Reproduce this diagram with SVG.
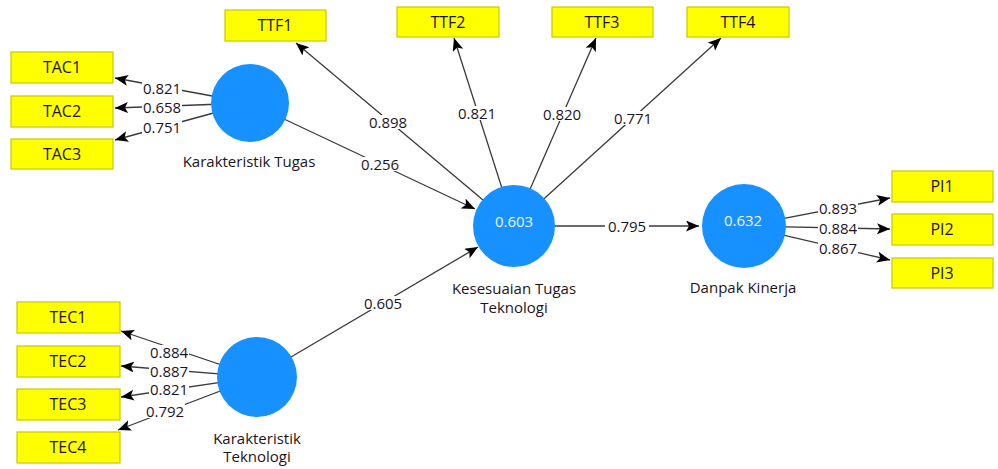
<svg xmlns="http://www.w3.org/2000/svg" width="998" height="469" viewBox="0 0 998 469">
  <style>
    .ind { fill: #ffff00; stroke: #c8c800; stroke-width: 1.2; }
    .ind-t { font-family: "Open Sans", "DejaVu Sans", sans-serif; font-size: 16px; fill: #1e1414; text-anchor: middle; }
    .lv { fill: #1691ff; }
    .lv-v { font-family: "Open Sans", "DejaVu Sans", sans-serif; font-size: 15px; fill: #eef4ff; text-anchor: middle; }
    .lv-n { font-family: "Open Sans", "DejaVu Sans", sans-serif; font-size: 15px; fill: #1e1420; text-anchor: middle; }
    .edge { stroke: #3a3a3a; stroke-width: 1.3; fill: none; marker-end: url(#arrow); }
    .w-bg { fill: #ffffff; }
    .w { font-family: "Open Sans", "DejaVu Sans", sans-serif; font-size: 15px; fill: #1e1428; text-anchor: middle; }
  </style>
  <defs>
    <marker id="arrow" markerUnits="userSpaceOnUse" markerWidth="14" markerHeight="12" refX="13" refY="5.5" orient="auto">
      <path d="M0,0 L13,5.5 L0,11 L3,5.5 z" fill="#000"/>
    </marker>
  </defs>
  <rect width="998" height="469" fill="#ffffff"/>

  <!-- paths and loadings -->
  <g id="connectors">
    <!-- Karakteristik Tugas outer loadings -->
    <line class="edge" x1="250" y1="103" x2="115" y2="78"/>
    <line class="edge" x1="250" y1="103" x2="115" y2="108"/>
    <line class="edge" x1="250" y1="103" x2="115" y2="140"/>
    <!-- Kesesuaian Tugas Teknologi outer loadings -->
    <line class="edge" x1="514" y1="226" x2="296" y2="43"/>
    <line class="edge" x1="514" y1="226" x2="454" y2="38"/>
    <line class="edge" x1="514" y1="226" x2="596" y2="38"/>
    <line class="edge" x1="514" y1="226" x2="721" y2="38"/>
    <!-- structural paths -->
    <line class="edge" x1="250" y1="103" x2="475" y2="209"/>
    <line class="edge" x1="257" y1="377" x2="478" y2="247"/>
    <line class="edge" x1="514" y1="226" x2="699" y2="226"/>
    <!-- Danpak Kinerja outer loadings -->
    <line class="edge" x1="744" y1="226" x2="890" y2="198"/>
    <line class="edge" x1="744" y1="226" x2="890" y2="229"/>
    <line class="edge" x1="744" y1="226" x2="890" y2="260"/>
    <!-- Karakteristik Teknologi outer loadings -->
    <line class="edge" x1="257" y1="377" x2="121" y2="331"/>
    <line class="edge" x1="257" y1="377" x2="121" y2="366"/>
    <line class="edge" x1="257" y1="377" x2="121" y2="397"/>
    <line class="edge" x1="257" y1="377" x2="118" y2="430"/>

    <!-- weights -->
    <g>
      <rect class="w-bg" x="142" y="81" width="40" height="14"/><text class="w" x="162" y="93.5">0.821</text>
      <rect class="w-bg" x="142" y="100" width="40" height="14"/><text class="w" x="162" y="112.5">0.658</text>
      <rect class="w-bg" x="142" y="120" width="40" height="14"/><text class="w" x="162" y="132.5">0.751</text>

      <rect class="w-bg" x="368" y="115" width="40" height="14"/><text class="w" x="388" y="127.5">0.898</text>
      <rect class="w-bg" x="457" y="106" width="40" height="14"/><text class="w" x="477" y="118.5">0.821</text>
      <rect class="w-bg" x="542" y="107" width="40" height="14"/><text class="w" x="562" y="119.5">0.820</text>
      <rect class="w-bg" x="613" y="111" width="40" height="14"/><text class="w" x="633" y="123.5">0.771</text>

      <rect class="w-bg" x="360" y="157" width="40" height="14"/><text class="w" x="380" y="169.5">0.256</text>
      <rect class="w-bg" x="363" y="296" width="40" height="14"/><text class="w" x="383" y="308.5">0.605</text>
      <rect class="w-bg" x="605" y="219" width="44" height="14"/><text class="w" x="627" y="231.5">0.795</text>

      <rect class="w-bg" x="818" y="201" width="40" height="14"/><text class="w" x="838" y="213.5">0.893</text>
      <rect class="w-bg" x="818" y="221" width="40" height="14"/><text class="w" x="838" y="233.5">0.884</text>
      <rect class="w-bg" x="818" y="241" width="40" height="14"/><text class="w" x="838" y="253.5">0.867</text>

      <rect class="w-bg" x="149" y="345" width="40" height="14"/><text class="w" x="169" y="357.5">0.884</text>
      <rect class="w-bg" x="149" y="364" width="40" height="14"/><text class="w" x="169" y="376.5">0.887</text>
      <rect class="w-bg" x="149" y="382" width="40" height="14"/><text class="w" x="169" y="394.5">0.821</text>
      <rect class="w-bg" x="145" y="404" width="40" height="14"/><text class="w" x="165" y="416.5">0.792</text>
    </g>
  </g>

  <!-- latent variables -->
  <g id="karakteristik-tugas">
    <circle class="lv" cx="250" cy="103" r="39"/>
    <text class="lv-n" x="249" y="167">Karakteristik Tugas</text>
  </g>
  <g id="kesesuaian-tugas-teknologi">
    <circle class="lv" cx="514" cy="226" r="41"/>
    <text class="lv-v" x="514" y="227">0.603</text>
    <text class="lv-n" x="514" y="294">Kesesuaian Tugas</text>
    <text class="lv-n" x="514" y="313">Teknologi</text>
  </g>
  <g id="danpak-kinerja">
    <circle class="lv" cx="744" cy="226" r="42"/>
    <text class="lv-v" x="743" y="226">0.632</text>
    <text class="lv-n" x="743" y="293">Danpak Kinerja</text>
  </g>
  <g id="karakteristik-teknologi">
    <circle class="lv" cx="257" cy="377" r="40"/>
    <text class="lv-n" x="257" y="444">Karakteristik</text>
    <text class="lv-n" x="257" y="462">Teknologi</text>
  </g>

  <!-- indicators -->
  <g id="TAC1"><rect class="ind" x="11" y="52" width="102" height="31"/><text class="ind-t" x="62" y="73">TAC1</text></g>
  <g id="TAC2"><rect class="ind" x="11" y="96" width="102" height="31"/><text class="ind-t" x="62" y="117">TAC2</text></g>
  <g id="TAC3"><rect class="ind" x="11" y="139" width="102" height="30"/><text class="ind-t" x="62" y="159.5">TAC3</text></g>

  <g id="TTF1"><rect class="ind" x="225" y="10" width="101" height="31"/><text class="ind-t" x="275" y="31">TTF1</text></g>
  <g id="TTF2"><rect class="ind" x="397" y="7" width="102" height="30"/><text class="ind-t" x="448" y="27.5">TTF2</text></g>
  <g id="TTF3"><rect class="ind" x="552" y="7" width="101" height="30"/><text class="ind-t" x="602" y="27.5">TTF3</text></g>
  <g id="TTF4"><rect class="ind" x="687" y="7" width="102" height="30"/><text class="ind-t" x="738" y="27.5">TTF4</text></g>

  <g id="PI1"><rect class="ind" x="892" y="171" width="101" height="31"/><text class="ind-t" x="942" y="192">PI1</text></g>
  <g id="PI2"><rect class="ind" x="892" y="214" width="101" height="31"/><text class="ind-t" x="942" y="235">PI2</text></g>
  <g id="PI3"><rect class="ind" x="892" y="258" width="101" height="30"/><text class="ind-t" x="942" y="278.5">PI3</text></g>

  <g id="TEC1"><rect class="ind" x="17" y="302" width="103" height="31"/><text class="ind-t" x="68" y="323">TEC1</text></g>
  <g id="TEC2"><rect class="ind" x="17" y="346" width="103" height="31"/><text class="ind-t" x="68" y="367">TEC2</text></g>
  <g id="TEC3"><rect class="ind" x="17" y="389" width="103" height="31"/><text class="ind-t" x="68" y="410">TEC3</text></g>
  <g id="TEC4"><rect class="ind" x="17" y="432" width="103" height="31"/><text class="ind-t" x="68" y="453">TEC4</text></g>
</svg>
